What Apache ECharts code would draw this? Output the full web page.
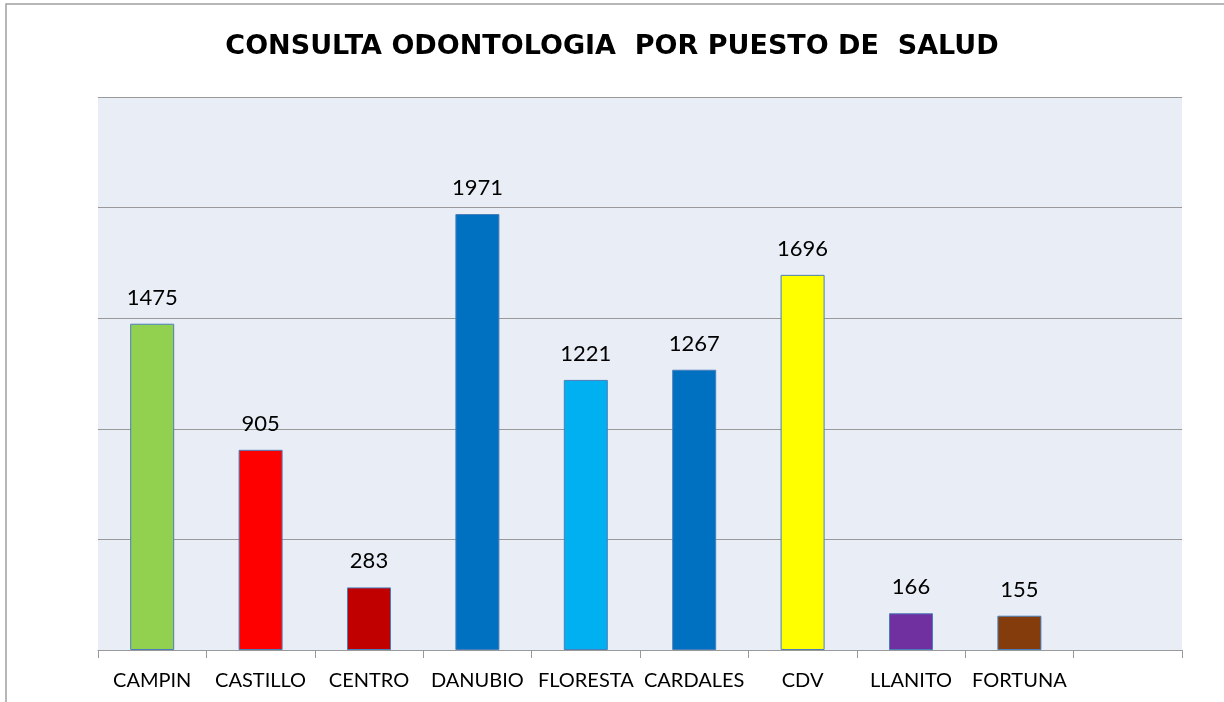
<!DOCTYPE html>
<html>
<head>
<meta charset="utf-8">
<script src="https://cdn.jsdelivr.net/npm/echarts@6/dist/echarts.min.js"></script>
<style>
html,body{margin:0;padding:0;background:#fff;}
#chart{width:1224px;height:702px;}
</style>
</head>
<body>
<div id="chart"></div>
<script>
const title = 'CONSULTA ODONTOLOGIA  POR PUESTO DE  SALUD';
const categories = ['CAMPIN','CASTILLO','CENTRO','DANUBIO','FLORESTA','CARDALES','CDV','LLANITO','FORTUNA',''];
const values = [1475, 905, 283, 1971, 1221, 1267, 1696, 166, 155, null];
const colors = ['#92d050','#ff0000','#c00000','#0070c0','#00b0f0','#0070c0','#ffff00','#7030a0','#843c0c','#ffffff'];
const yMin = 0, yMax = 2500, yInterval = 500;

const chart = echarts.init(document.getElementById('chart'), null, {renderer:'canvas'});
chart.setOption({
  backgroundColor:'#ffffff',
  animation:false,
  graphic:[{
    type:'rect', silent:true, z:-1,
    shape:{x:6, y:4, width:1240, height:720},
    style:{fill:'#ffffff', stroke:'#a0a0a0', lineWidth:1.5}
  }],
  title:{
    text:title, left:'center', top:28,
    textStyle:{fontFamily:'DejaVu Sans', fontWeight:'bold', fontSize:27, color:'#000'}
  },
  grid:{left:98, right:42, top:97, bottom:52, show:true, backgroundColor:'#e9edf5', borderWidth:0},
  xAxis:{
    type:'category', data:categories,
    axisLine:{lineStyle:{color:'#999', width:1}},
    axisTick:{show:true, length:8, lineStyle:{color:'#999'}},
    axisLabel:{fontFamily:'Lato', fontSize:20, color:'#000', margin:21, interval:0}
  },
  yAxis:{
    type:'value', min:yMin, max:yMax, interval:yInterval,
    axisLabel:{show:false}, axisLine:{show:false}, axisTick:{show:false},
    splitLine:{lineStyle:{color:'#999', width:1}}
  },
  series:[{
    type:'bar', data:values.map((v,i)=>({value:v, itemStyle:{color:colors[i]}})),
    barWidth:44,
    itemStyle:{borderColor:'#4a7ebb', borderWidth:1},
    label:{show:true, position:'top', distance:15, fontFamily:'Lato', fontSize:22, color:'#000'}
  }]
});
</script>
</body>
</html>
